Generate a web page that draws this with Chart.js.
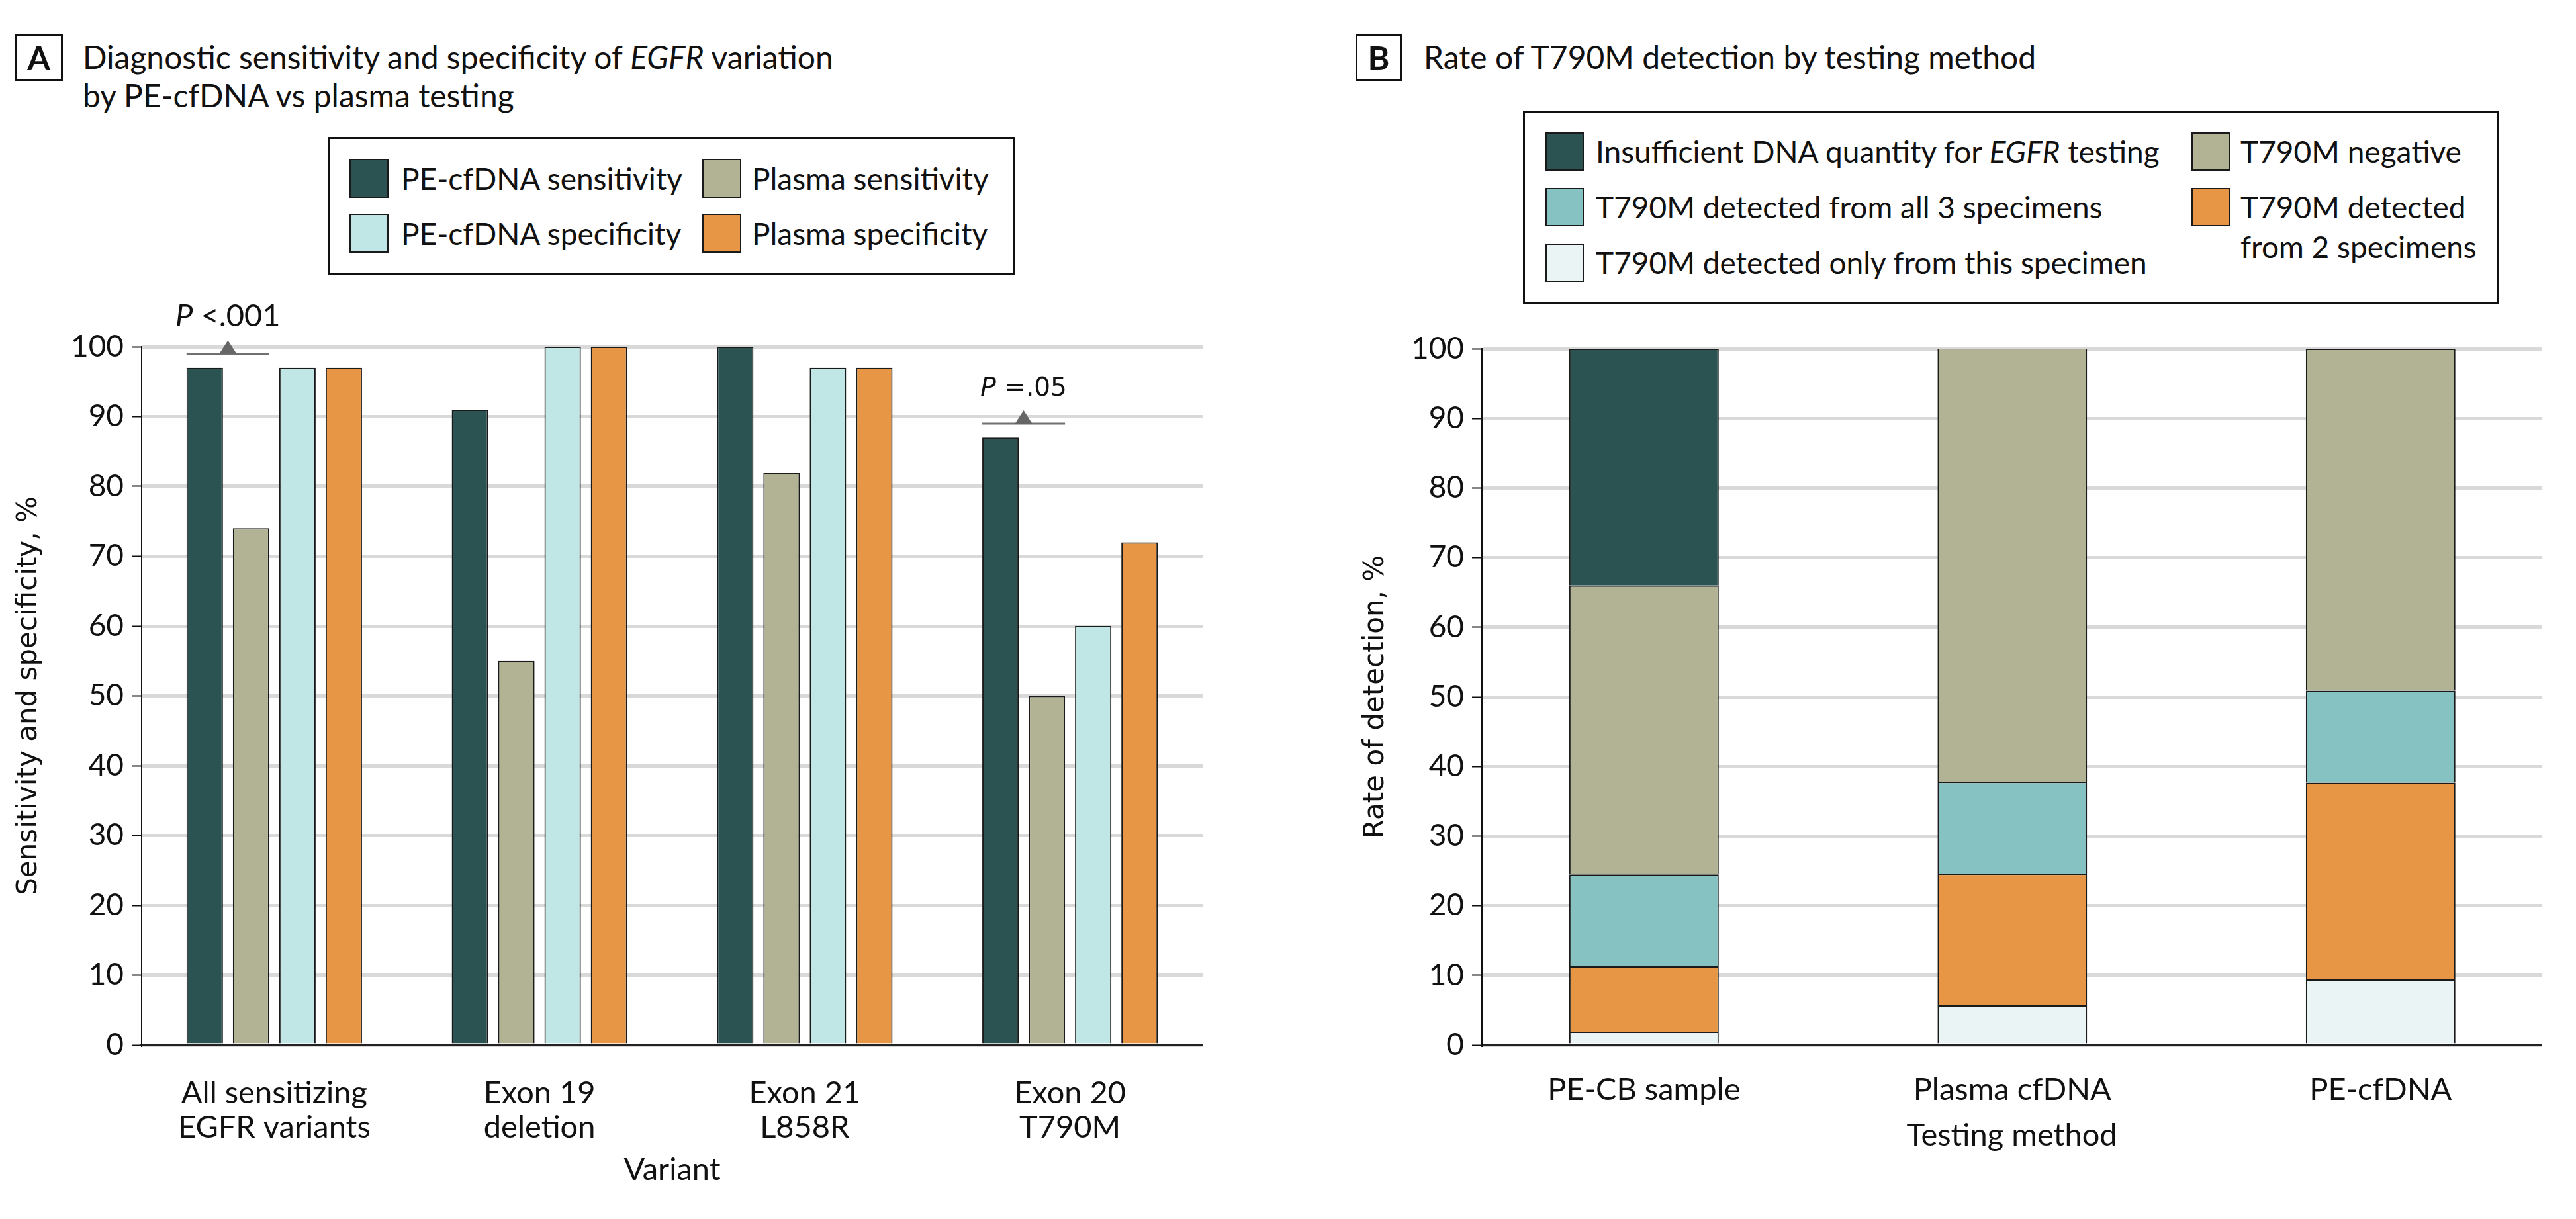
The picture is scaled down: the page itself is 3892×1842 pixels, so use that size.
<!DOCTYPE html>
<html><head><meta charset="utf-8">
<script src="https://cdn.jsdelivr.net/npm/chart.js@4.4.0/dist/chart.umd.min.js"></script>
<style>
html,body{margin:0;padding:0;background:#fff;}
body{width:3892px;height:1842px;position:relative;overflow:hidden;font-family:Lato,'DejaVu Sans',sans-serif;color:#111;}
.panel{position:absolute;border:3px solid #111;box-sizing:border-box;display:flex;align-items:center;justify-content:center;font-weight:700;font-size:50px;line-height:1;}
.title{position:absolute;font-size:48px;line-height:58px;white-space:nowrap;}
.lbox{position:absolute;border:3px solid #111;box-sizing:border-box;}
.sw{position:absolute;border:2.5px solid #1a1a1a;box-sizing:border-box;}
.lt{position:absolute;font-size:46px;line-height:60px;white-space:nowrap;}
canvas{position:absolute;}
</style></head><body>

<div class="panel" style="left:22px;top:51px;width:73px;height:71px;">A</div>
<div class="title" style="left:125px;top:57px;">Diagnostic sensitivity and specificity of <i>EGFR</i> variation<br>by PE-cfDNA vs plasma testing</div>

<div class="panel" style="left:2048px;top:51px;width:70px;height:71px;">B</div>
<div class="title" style="left:2151px;top:57px;">Rate of T790M detection by testing method</div>

<div id="legA" class="lbox" style="left:496px;top:207px;width:1038px;height:208px;"></div>
<div id="legB" class="lbox" style="left:2301px;top:168px;width:1474px;height:292px;"></div>

<canvas id="chartA" width="1900" height="1402" style="left:0px;top:440px;"></canvas>
<canvas id="chartB" width="1942" height="1402" style="left:1950px;top:440px;"></canvas>

<script>
// ---------- Panel A data ----------
const variantLabels = [['All sensitizing', 'EGFR variants'], ['Exon 19', 'deletion'], ['Exon 21', 'L858R'], ['Exon 20', 'T790M']];
const peSensitivity = [97, 91, 100, 87];
const plasmaSensitivity = [74, 55, 82, 50];
const peSpecificity = [97, 100, 97, 60];
const plasmaSpecificity = [97, 100, 97, 72];
const seriesNamesA = ['PE-cfDNA sensitivity', 'Plasma sensitivity', 'PE-cfDNA specificity', 'Plasma specificity'];
const pValueLabels = ['P <.001', 'P =.05'];
const pValueGroups = [0, 3];
const pValueLevels = [99, 89];

// ---------- Panel B data ----------
const methodLabels = ['PE-CB sample', 'Plasma cfDNA', 'PE-cfDNA'];
const onlyThisSpecimen = [1.9, 5.7, 9.4];
const fromTwoSpecimens = [9.4, 18.9, 28.3];
const fromAllThree = [13.2, 13.2, 13.2];
const t790mNegative = [41.5, 62.3, 49.1];
const insufficientDNA = [34.0, 0, 0];
const seriesNamesB = ['T790M detected only from this specimen', 'T790M detected from 2 specimens', 'T790M detected from all 3 specimens', 'T790M negative', 'Insufficient DNA quantity for EGFR testing'];

const C_DARK = '#2b5352', C_KHAKI = '#b2b394', C_LCYAN = '#c0e6e5', C_ORANGE = '#e69645', C_TEAL = '#86c2c1', C_PALE = '#eaf4f4';
const BORDER = '#1a1a1a';

// ---------- HTML legends ----------
function sw(left, top, size, color) {
  const d = document.createElement('div'); d.className = 'sw';
  Object.assign(d.style, {left: left + 'px', top: top + 'px', width: size + 'px', height: size + 'px', background: color});
  document.body.appendChild(d);
}
function txt(html, left, top) {
  const d = document.createElement('div'); d.className = 'lt';
  d.style.left = left + 'px'; d.style.top = top + 'px';
  d.innerHTML = html; document.body.appendChild(d);
}
// Legend A
sw(528, 240, 59, C_DARK);   txt(seriesNamesA[0], 606, 240);
sw(1061, 240, 59, C_KHAKI); txt(seriesNamesA[1], 1136, 240);
sw(528, 323, 59, C_LCYAN);  txt(seriesNamesA[2], 606, 323);
sw(1061, 323, 59, C_ORANGE);txt(seriesNamesA[3], 1136, 323);
// Legend B
sw(2335, 200, 58, C_DARK);  txt('Insufficient DNA quantity for <i>EGFR</i> testing', 2411, 199);
sw(2335, 284, 58, C_TEAL);  txt(seriesNamesB[2], 2411, 283);
sw(2335, 368, 58, C_PALE);  txt(seriesNamesB[0], 2411, 367);
sw(3311, 200, 58, C_KHAKI); txt(seriesNamesB[3], 3385, 199);
sw(3311, 284, 58, C_ORANGE);txt('T790M detected<br>from 2 specimens', 3385, 283);

// ---------- annotation plugin ----------
const pAnnot = {
  id: 'pAnnot',
  afterDatasetsDraw(chart) {
    const ctx = chart.ctx, ys = chart.scales.y;
    const m0 = chart.getDatasetMeta(0), m1 = chart.getDatasetMeta(1);
    pValueGroups.forEach((g, i) => {
      const b0 = m0.data[g], b1 = m1.data[g];
      const x0 = b0.x - b0.width / 2, x1 = b1.x + b1.width / 2, xc = (x0 + x1) / 2;
      const yl = ys.getPixelForValue(pValueLevels[i]);
      ctx.save();
      ctx.strokeStyle = '#707070'; ctx.lineWidth = 3;
      ctx.beginPath(); ctx.moveTo(x0, yl); ctx.lineTo(x1, yl); ctx.stroke();
      ctx.fillStyle = '#666';
      ctx.beginPath(); ctx.moveTo(xc - 13, yl); ctx.lineTo(xc + 13, yl); ctx.lineTo(xc, yl - 20); ctx.closePath(); ctx.fill();
      const fam = i === 0 ? 'Lato' : 'DejaVu Sans';
      const size = i === 0 ? 47 : 39;
      const first = pValueLabels[i].charAt(0), rest = pValueLabels[i].slice(1);
      ctx.font = 'italic ' + size + 'px ' + fam; const w1 = ctx.measureText(first).width;
      ctx.font = size + 'px ' + fam; const w2 = ctx.measureText(rest).width;
      const sx = xc - (w1 + w2) / 2, by = yl - 42;
      ctx.fillStyle = '#111'; ctx.textBaseline = 'alphabetic'; ctx.textAlign = 'left';
      ctx.font = 'italic ' + size + 'px ' + fam; ctx.fillText(first, sx, by);
      ctx.font = size + 'px ' + fam; ctx.fillText(rest, sx + w1, by);
      ctx.restore();
    });
  }
};

function yScale(title, width, titlePad) {
  return {
    min: 0, max: 100,
    ticks: {stepSize: 10, color: '#111', font: {family: 'Lato', size: 46}, padding: 12},
    grid: {color: '#d9d9d9', lineWidth: 5, tickColor: '#111', tickLength: 15, tickWidth: 2},
    border: {display: true, color: '#111', width: 2},
    title: {display: true, text: title, color: '#111', font: {family: 'DejaVu Sans', size: 42}, padding: {top: titlePad, bottom: 0}},
    afterFit(s) { s.width = width; }
  };
}
function xScale(title, height, tickPad, titlePad) {
  return {
    grid: {display: false},
    border: {display: true, color: '#222', width: 4},
    ticks: {color: '#111', font: {family: 'Lato', size: 47, lineHeight: 1.1}, padding: tickPad, maxRotation: 0, autoSkip: false},
    title: {display: true, text: title, color: '#111', font: {family: 'Lato', size: 47}, padding: {top: 0, bottom: titlePad}},
    afterFit(s) { s.height = height; }
  };
}

function draw() {
  const ds = (label, data, color) => ({label, data, backgroundColor: color, borderColor: BORDER, borderWidth: 2});
  new Chart(document.getElementById('chartA'), {
    type: 'bar',
    data: {labels: variantLabels, datasets: [
      ds(seriesNamesA[0], peSensitivity, C_DARK),
      ds(seriesNamesA[1], plasmaSensitivity, C_KHAKI),
      ds(seriesNamesA[2], peSpecificity, C_LCYAN),
      ds(seriesNamesA[3], plasmaSpecificity, C_ORANGE)
    ]},
    options: {
      responsive: false, animation: false, devicePixelRatio: 1,
      datasets: {bar: {categoryPercentage: 0.699, barPercentage: 0.786}},
      layout: {padding: {top: 84, right: 83, left: 0, bottom: 0}},
      plugins: {legend: {display: false}, tooltip: {enabled: false}},
      scales: {x: xScale('Variant', 263, 39, 46), y: yScale('Sensitivity and specificity, %', 214, 19)}
    },
    plugins: [pAnnot]
  });

  // Panel B: categories placed on a linear index axis so that the bar spacing matches the original
  const pts = arr => arr.map((v, i) => ({x: i, y: v}));
  const xB = Object.assign(xScale('Testing method', 263, 34, 98), {
    type: 'linear', stacked: true, offset: false, min: -0.44, max: 2.437,
    afterBuildTicks(s) { s.ticks = methodLabels.map((_, i) => ({value: i})); }
  });
  xB.ticks.callback = v => methodLabels[v];
  new Chart(document.getElementById('chartB'), {
    type: 'bar',
    data: {labels: methodLabels, datasets: [
      ds(seriesNamesB[0], pts(onlyThisSpecimen), C_PALE),
      ds(seriesNamesB[1], pts(fromTwoSpecimens), C_ORANGE),
      ds(seriesNamesB[2], pts(fromAllThree), C_TEAL),
      ds(seriesNamesB[3], pts(t790mNegative), C_KHAKI),
      ds(seriesNamesB[4], pts(insufficientDNA), C_DARK)
    ]},
    options: {
      responsive: false, animation: false, devicePixelRatio: 1,
      datasets: {bar: {categoryPercentage: 0.812, barPercentage: 0.5}},
      layout: {padding: {top: 87, right: 52, left: 0, bottom: 0}},
      plugins: {legend: {display: false}, tooltip: {enabled: false}},
      scales: {
        x: xB,
        y: Object.assign(yScale('Rate of detection, %', 289, 104), {stacked: true})
      }
    }
  });
}

const fontLoads = ['46px Lato', 'italic 46px Lato', '42px "DejaVu Sans"', 'italic 39px "DejaVu Sans"', 'bold 50px Lato']
  .map(f => document.fonts.load(f).catch(() => null));
Promise.all(fontLoads).then(draw, draw);
</script>
</body></html>
